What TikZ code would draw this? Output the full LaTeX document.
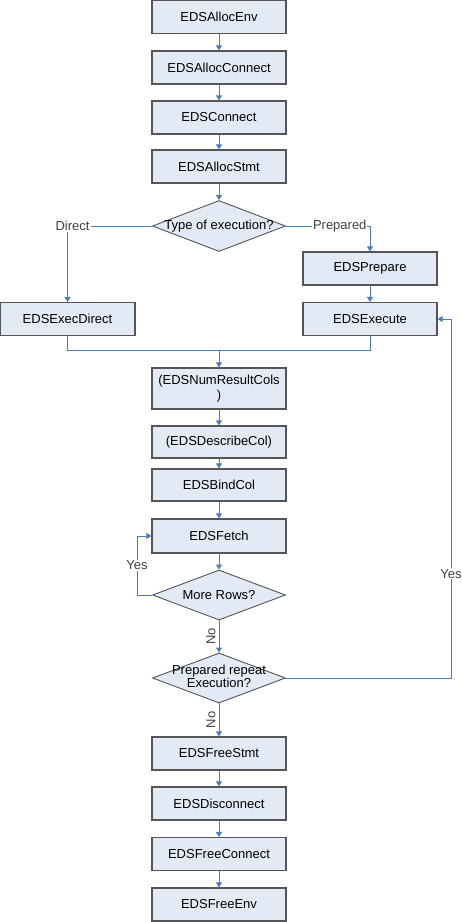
\documentclass[tikz,border=0pt]{standalone}
\usepackage{fontspec}
\setmainfont{Liberation Sans}
\usetikzlibrary{shapes.geometric,arrows.meta}
\definecolor{boxfill}{HTML}{E4EAF5}
\definecolor{boxline}{HTML}{555555}
\definecolor{arrowc}{HTML}{4A7EBB}
\tikzset{
  box/.style={draw=boxline,fill=boxfill,line width=1.1pt,minimum width=134pt,minimum height=33pt,inner sep=0pt,font=\fontsize{13}{15}\selectfont,align=center},
  dec/.style={draw=boxline,fill=boxfill,line width=0.9pt,shape=diamond,aspect=2.6,minimum width=133pt,minimum height=51pt,inner sep=0pt,font=\fontsize{13}{15}\selectfont},
  conn/.style={draw=arrowc,line width=1pt},
  arr/.style={conn,-{Triangle[length=5pt,width=6pt]}},
  lbl/.style={font=\fontsize{13}{15}\selectfont,fill=white,inner sep=1pt,text=black!75},
  nolbl/.style={font=\fontsize{13}{15}\selectfont,inner sep=3pt,text=black!75,rotate=90,anchor=south},
}
\begin{document}
\begin{tikzpicture}[x=1pt,y=-1pt]
\useasboundingbox (0,0) rectangle (462,922);
\node[box] (env) at (219,17) {EDSAllocEnv};
\node[box] (acon) at (219,67.5) {EDSAllocConnect};
\node[box] (con) at (219,117.5) {EDSConnect};
\node[box] (astmt) at (219,166.5) {EDSAllocStmt};
\node[dec] (type) at (219,226) {\makebox[0pt]{Type of execution?}};
\node[box,minimum width=135pt] (direct) at (67.5,319) {EDSExecDirect};
\node[box] (prep) at (370,268.5) {EDSPrepare};
\node[box] (exec) at (370,319) {EDSExecute};
\coordinate (merge) at (219,350);
\node[box,minimum height=41pt] (num) at (219,388.5) {(EDSNumResultCols\\)};
\node[box,minimum height=32pt] (desc) at (219,442) {(EDSDescribeCol)};
\node[box,minimum height=32pt] (bind) at (219,485) {EDSBindCol};
\node[box,minimum height=34pt] (fetch) at (219,536) {EDSFetch};
\node[dec,minimum height=50pt] (more) at (219,595) {\makebox[0pt]{More Rows?}};
\node[dec,minimum height=50pt] (rep) at (219,678) {\makebox[0pt]{\begin{tabular}{@{}c@{}}Prepared repeat\\[-2pt]Execution?\end{tabular}}};
\node[box] (fstmt) at (219,753.5) {EDSFreeStmt};
\node[box] (disc) at (219,803.5) {EDSDisconnect};
\node[box] (fcon) at (219,854) {EDSFreeConnect};
\node[box] (fenv) at (219,904.5) {EDSFreeEnv};

\draw[arr] (env) -- (acon);
\draw[arr] (acon) -- (con);
\draw[arr] (con) -- (astmt);
\draw[arr] (astmt) -- (type);
\draw[arr] (type.west) -| node[lbl,pos=0.47] {Direct} (direct.north);
\draw[arr] (type.east) -| node[lbl,pos=0.32] {Prepared} (prep.north);
\draw[arr] (prep) -- (exec);
\draw[conn] (direct.south) |- (merge);
\draw[conn] (exec.south) |- (merge);
\draw[arr] (merge) -- (num);
\draw[arr] (num) -- (desc);
\draw[arr] (desc) -- (bind);
\draw[arr] (bind) -- (fetch);
\draw[arr] (fetch) -- (more);
\coordinate (ly) at (137,595);
\draw[arr] (more.west) -- (ly) -- node[lbl,pos=0.5] {Yes} (ly |- fetch.west) -- (fetch.west);
\draw[arr] (more) -- node[nolbl,pos=0.5] {No} (rep);
\coordinate (ry) at (451,678);
\draw[arr] (rep.east) -- (ry) -- node[lbl,pos=0.29] {Yes} (ry |- exec.east) -- (exec.east);
\draw[arr] (rep) -- node[nolbl,pos=0.5] {No} (fstmt);
\draw[arr] (fstmt) -- (disc);
\draw[arr] (disc) -- (fcon);
\draw[arr] (fcon) -- (fenv);
\end{tikzpicture}
\end{document}
